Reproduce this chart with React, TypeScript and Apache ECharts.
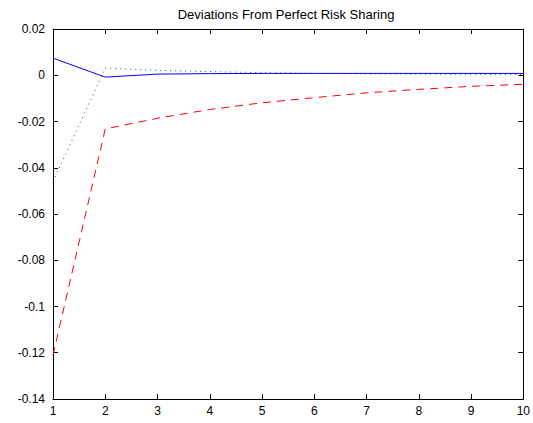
import React, { useEffect, useRef } from "react";
import * as echarts from "echarts";

const periods = [1, 2, 3, 4, 5, 6, 7, 8, 9, 10];
const blueSeries = [0.0074, -0.0008, 0.0005, 0.0007, 0.0008, 0.0008, 0.0008, 0.0008, 0.0008, 0.0008];
const greenSeries = [-0.046, 0.0031, 0.0021, 0.0016, 0.0011, 0.0008, 0.0006, 0.0005, 0.0004, 0.0003];
const redSeries = [-0.121, -0.0232, -0.0186, -0.0148, -0.0119, -0.0097, -0.0076, -0.0061, -0.0048, -0.0039];
const titleText = "Deviations From Perfect Risk Sharing";

export default function App() {
  const ref = useRef<HTMLDivElement>(null);
  useEffect(() => {
    if (!ref.current) return;
    const chart = echarts.init(ref.current, null, { renderer: "svg" });
    const font = "Liberation Sans, Arial, sans-serif";
    const axisLine = { show: true, onZero: false, lineStyle: { color: "#000", width: 1 } };
    const tick = { show: true, inside: true, length: 5, lineStyle: { color: "#000" } };
    const fmtY = (v: number) => String(parseFloat(v.toFixed(2)));
    const mk = (d: number[]) => periods.map((p, i) => [p, d[i]]);
    chart.setOption({
      animation: false,
      backgroundColor: "#fff",
      title: {
        text: titleText,
        left: 281,
        textAlign: "center",
        top: 3,
        textStyle: { fontFamily: font, fontSize: 13, fontWeight: "normal", color: "#000" },
      },
      grid: { left: 53, right: 6, top: 29, bottom: 24, containLabel: false },
      xAxis: [
        {
          type: "value", min: 1, max: 10, interval: 1, position: "bottom",
          axisLine, axisTick: tick, splitLine: { show: false },
          axisLabel: { fontFamily: font, fontSize: 12, color: "#000", margin: 6 },
        },
        {
          type: "value", min: 1, max: 10, interval: 1, position: "top",
          axisLine, axisTick: tick, splitLine: { show: false }, axisLabel: { show: false },
        },
      ],
      yAxis: [
        {
          type: "value", min: -0.14, max: 0.02, interval: 0.02, position: "left",
          axisLine, axisTick: tick, splitLine: { show: false },
          axisLabel: { fontFamily: font, fontSize: 12, color: "#000", margin: 8, formatter: fmtY },
        },
        {
          type: "value", min: -0.14, max: 0.02, interval: 0.02, position: "right",
          axisLine, axisTick: tick, splitLine: { show: false }, axisLabel: { show: false },
        },
      ],
      series: [
        {
          type: "line", data: mk(redSeries), symbol: "none",
          lineStyle: { color: "#ff0000", width: 1, type: [8, 6] },
        },
        {
          type: "line", data: mk(greenSeries), symbol: "none",
          lineStyle: { color: "#008000", width: 1, type: [1, 4] },
        },
        {
          type: "line", data: mk(blueSeries), symbol: "none",
          lineStyle: { color: "#0000ff", width: 1, type: "solid" },
        },
      ],
    });
    return () => chart.dispose();
  }, []);
  return <div ref={ref} style={{ width: 533, height: 423, position: "absolute", left: 0, top: 0 }} />;
}
